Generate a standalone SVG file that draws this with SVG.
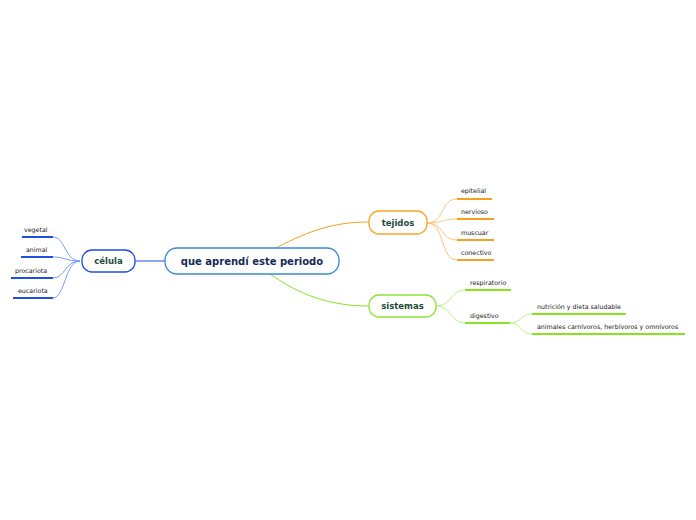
<svg xmlns="http://www.w3.org/2000/svg" width="696" height="520" viewBox="0 0 696 520">
<style>
.bg{fill:#fff}
.node{fill:#fff;stroke-width:1.3}
.t-main{font-family:"DejaVu Sans",Verdana,sans-serif;font-weight:bold;font-size:10px;fill:#142a55;text-anchor:middle}
.t-topic{font-family:"DejaVu Sans",Verdana,sans-serif;font-weight:bold;font-size:8.5px;fill:#1e4a3c;text-anchor:middle}
.t-leaf{font-family:"DejaVu Sans",Verdana,sans-serif;font-size:6.3px;fill:#222}
.c{fill:none;stroke-width:1}
.u{fill:none;stroke-width:2}
.blue{stroke:#1d4fe3}.lblue{stroke:#7c98ff}
.orange{stroke:#f5a020}.lorange{stroke:#fcc57a}
.green{stroke:#86e51f}.lgreen{stroke:#bdf383}
</style>
<rect class="bg" width="696" height="520"/>
<g id="connectors">
<path class="c blue" d="M135 261 H165" stroke-width="1.2"/>
<path class="c orange" d="M276 248 C310 230 335 222 369 222" stroke-width="1.3"/>
<path class="c green" d="M270 274 C300 295 330 306 369 306" stroke-width="1.3"/>
<path class="c lblue" d="M80 261 C65 261 65 237 53 237"/>
<path class="c lblue" d="M80 261 C65 261 65 257 53 257"/>
<path class="c lblue" d="M80 261 C65 261 65 278 53 278"/>
<path class="c lblue" d="M80 261 C65 261 65 298 53 298"/>
<path class="c lorange" d="M427 223 C445 223 440 199 457 199"/>
<path class="c lorange" d="M427 223 C445 223 440 219 457 219"/>
<path class="c lorange" d="M427 223 C445 223 440 240 457 240"/>
<path class="c lorange" d="M427 223 C445 223 440 260 457 260"/>
<path class="c lgreen" d="M436 306 C452 306 450 290 465 290"/>
<path class="c lgreen" d="M436 306 C452 306 450 323 465 323"/>
<path class="c lgreen" d="M510 323 C522 323 520 314 532 314"/>
<path class="c lgreen" d="M510 323 C522 323 520 334 532 334"/>
</g>
<g id="n-central">
<rect class="node" x="165" y="248" width="174" height="26" rx="12" stroke="#3a8ad8"/>
<text class="t-main" x="252" y="265">que aprendí este periodo</text>
</g>
<g id="n-celula">
<rect class="node" x="82" y="250" width="53" height="22" rx="10" stroke="#1d4fe3"/>
<text class="t-topic" x="108.5" y="264">célula</text>
</g>
<g id="n-vegetal"><path class="u blue" d="M22 237 H53"/><text class="t-leaf" x="24" y="232">vegetal</text></g>
<g id="n-animal"><path class="u blue" d="M21 257 H53"/><text class="t-leaf" x="26" y="252">animal</text></g>
<g id="n-procariota"><path class="u blue" d="M11 278 H53"/><text class="t-leaf" x="15" y="273">procariota</text></g>
<g id="n-eucariota"><path class="u blue" d="M13 298 H53"/><text class="t-leaf" x="18" y="293">eucariota</text></g>
<g id="n-tejidos">
<rect class="node" x="369" y="211" width="58" height="23" rx="10" stroke="#f5a623"/>
<text class="t-topic" x="398" y="226">tejidos</text>
</g>
<g id="n-epitelial"><path class="u orange" d="M457 199 H492"/><text class="t-leaf" x="461" y="193">epitelial</text></g>
<g id="n-nervioso"><path class="u orange" d="M457 219 H494"/><text class="t-leaf" x="461" y="214">nervioso</text></g>
<g id="n-muscuar"><path class="u orange" d="M457 240 H494"/><text class="t-leaf" x="461" y="235">muscuar</text></g>
<g id="n-conectivo"><path class="u orange" d="M457 260 H494"/><text class="t-leaf" x="461" y="255">conectivo</text></g>
<g id="n-sistemas">
<rect class="node" x="369" y="295" width="67" height="22" rx="10" stroke="#8ee33b"/>
<text class="t-topic" x="402.5" y="309">sistemas</text>
</g>
<g id="n-respiratorio"><path class="u green" d="M465 290 H511"/><text class="t-leaf" x="470" y="285">respiratorio</text></g>
<g id="n-digestivo"><path class="u green" d="M465 323 H510"/><text class="t-leaf" x="470" y="318">digestivo</text></g>
<g id="n-nutricion"><path class="u green" d="M532 314 H626"/><text class="t-leaf" x="537" y="309">nutrición y dieta saludable</text></g>
<g id="n-animales"><path class="u green" d="M532 334 H685"/><text class="t-leaf" x="537" y="329">animales carnívoros, herbívoros y omnívoros</text></g>
</svg>
